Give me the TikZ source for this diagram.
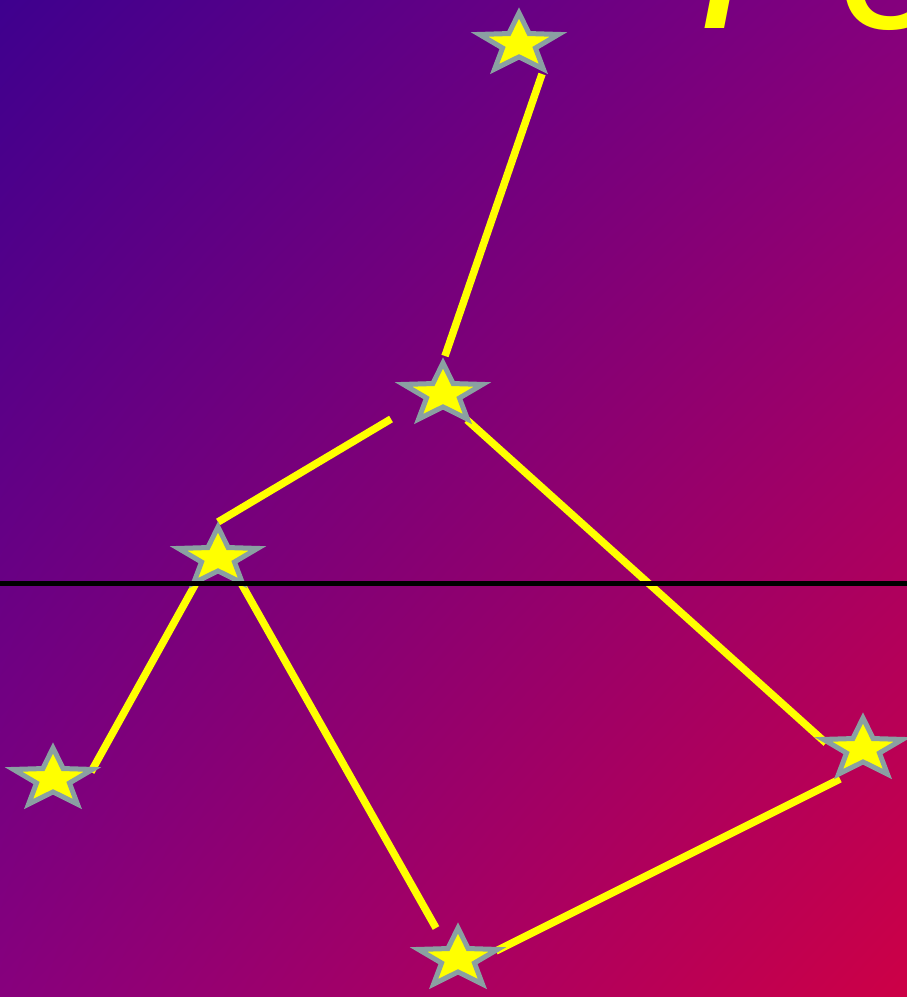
\documentclass[tikz,border=0pt]{standalone}
\usepackage{fontspec}
\setmainfont{Liberation Sans}
\usetikzlibrary{shapes.geometric,shadings}

\begin{document}
\begin{tikzpicture}[
    x=1pt, y=-1pt,
    starnode/.style={
        shape=star,
        star points=5,
        star point ratio=2.4,
        minimum size=62pt,
        inner sep=0pt,
        draw=stargray,
        fill=staryellow,
        line width=5pt,
        xscale=1.34
    },
    link/.style={draw=staryellow, line width=7.5pt},
    horizon/.style={draw=black, line width=5pt},
    title/.style={font=\fontsize{210}{210}\selectfont\itshape, text=staryellow, inner sep=0pt}
]

\definecolor{staryellow}{RGB}{255,255,0}
\definecolor{stargray}{RGB}{138,160,162}
\definecolor{skytl}{RGB}{62,0,142}
\definecolor{skytr}{RGB}{133,0,125}
\definecolor{skybl}{RGB}{135,0,125}
\definecolor{skybr}{RGB}{205,0,70}

% sky
\shade[upper left=skytl, upper right=skytr, lower left=skybl, lower right=skybr]
    (0,0) rectangle (907,997);
\useasboundingbox (0,0) rectangle (907,997);

\node[title, anchor=base west] (heading) at (698,28) {Pe};

% line ends
\coordinate (topend) at (542,74);
\coordinate (midup) at (445,356);
\coordinate (midleft) at (391,419);
\coordinate (midright) at (467,420);
\coordinate (leftup) at (218,522);
\coordinate (leftdown) at (196,583);
\coordinate (leftdownb) at (241,583);
\coordinate (lowleftend) at (91,772);
\coordinate (footup) at (436,928);
\coordinate (footright) at (496,951);
\coordinate (rightin) at (826,743);
\coordinate (rightlow) at (840,779);

\draw[link] (midup) -- (topend);
\draw[link] (midleft) -- (leftup);
\draw[link] (midright) -- (rightin);
\draw[link] (leftdown) -- (lowleftend);
\draw[link] (leftdownb) -- (footup);
\draw[link] (footright) -- (rightlow);

% stars
\node[starnode] (skytop) at (519,44) {};
\node[starnode] (skymid) at (443,394) {};
\node[starnode] (skyleft) at (218,558) {};
\node[starnode] (lowleft) at (53,779) {};
\node[starnode] (lowright) at (863,749) {};
\node[starnode] (lowmid) at (458,959) {};

% horizon
\coordinate (horwest) at (0,583);
\coordinate (horeast) at (907,583);
\draw[horizon] (horwest) -- (horeast);

\end{tikzpicture}
\end{document}
